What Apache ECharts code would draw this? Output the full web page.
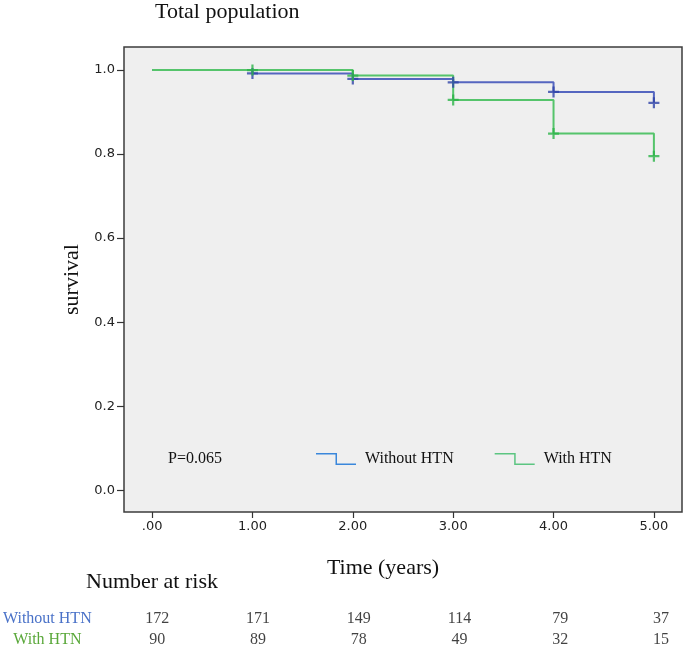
<!DOCTYPE html>
<html>
<head>
<meta charset="utf-8">
<script src="https://cdn.jsdelivr.net/npm/echarts@6/dist/echarts.min.js"></script>
<style>
html,body{margin:0;padding:0;background:#fff;}
#chart{width:685px;height:651px;}
</style>
</head>
<body>
<div id="chart"></div>
<script>
// ---- data ----
const timePoints = [0, 1, 2, 3, 4, 5];
const xTickLabels = ['.00', '1.00', '2.00', '3.00', '4.00', '5.00'];
const yTicks = [0, 0.2, 0.4, 0.6, 0.8, 1.0];
const yTickLabels = ['0.0', '0.2', '0.4', '0.6', '0.8', '1.0'];
const groups = ['Without HTN', 'With HTN'];
const survWithout = [1.0, 0.992, 0.979, 0.971, 0.948, 0.922];
const survWith = [1.0, 1.0, 0.987, 0.929, 0.849, 0.795];
const riskWithout = [172, 171, 149, 114, 79, 37];
const riskWith = [90, 89, 78, 49, 32, 15];
const pValueText = 'P=0.065';

// ---- styling ----
const SERIF = '"Liberation Serif", "Times New Roman", serif';
const SANS = '"DejaVu Sans", Arial, sans-serif';
const blueLine = '#5566c0', blueMark = '#3044a8', blueLegend = '#3a87db', blueText = '#4a72c8';
const greenLine = '#55c46b', greenMark = '#2cb449', greenLegend = '#5cc581', greenText = '#5aa83a';
const plusPath = 'path://M4,0H6V4H10V6H6V10H4V6H0V4H4Z';
const stepIcon = 'path://M0,0H21V10.5H40V12H19.5V1.5H0Z';

const kmData = (s) => timePoints.map((t, i) => [t, s[i]]);
const censorData = (s) => timePoints.slice(1).map((t, i) => [t, s[i + 1]]);
const riskData = (r, row) => timePoints.map((t, i) => [t, row, r[i]]);

const chart = echarts.init(document.getElementById('chart'), null, {renderer: 'canvas'});
chart.setOption({
  animation: false,
  backgroundColor: '#ffffff',
  title: [
    {text: 'Total population', left: 155, top: 1, padding: 0,
     textStyle: {fontFamily: SERIF, fontSize: 22, fontWeight: 'normal', color: '#111'}},
    {text: 'Number at risk', left: 86, top: 571, padding: 0,
     textStyle: {fontFamily: SERIF, fontSize: 22, fontWeight: 'normal', color: '#111'}},
    {text: pValueText, left: 168, top: 451, padding: 0,
     textStyle: {fontFamily: SERIF, fontSize: 16, fontWeight: 'normal', color: '#111'}}
  ],
  legend: {
    left: 316, top: 451, padding: 0,
    itemWidth: 40, itemHeight: 12, itemGap: 41,
    selectedMode: false,
    textStyle: {fontFamily: SERIF, fontSize: 16, color: '#111', padding: [0, 0, 0, 4]},
    data: [
      {name: groups[0], icon: stepIcon, itemStyle: {color: blueLegend}},
      {name: groups[1], icon: stepIcon, itemStyle: {color: greenLegend}}
    ]
  },
  grid: [
    {left: 124, top: 47, width: 558, height: 465, show: true,
     backgroundColor: '#efefef', borderColor: '#3c3c3c', borderWidth: 1.5, containLabel: false},
    {left: 157, right: 24, top: 608, height: 48, containLabel: false}
  ],
  xAxis: [
    {type: 'value', gridIndex: 0, min: -0.28, max: 5.28,
     axisLine: {show: false, onZero: false}, splitLine: {show: false},
     axisTick: {show: true, inside: false, length: 6, customValues: timePoints, lineStyle: {color: '#333', width: 1.2}},
     axisLabel: {customValues: timePoints, margin: 8, fontFamily: SANS, fontSize: 13, color: '#222',
       formatter: (v) => xTickLabels[timePoints.indexOf(Math.round(v))]},
     name: 'Time (years)', nameLocation: 'middle', nameGap: 45,
     nameTextStyle: {fontFamily: SERIF, fontSize: 22, color: '#111', padding: [0, 40, 0, 0]}},
    {type: 'value', gridIndex: 1, min: 0, max: 5, show: false}
  ],
  yAxis: [
    {type: 'value', gridIndex: 0, min: -0.052, max: 1.055,
     axisLine: {show: false, onZero: false}, splitLine: {show: false},
     axisTick: {show: true, inside: false, length: 7, customValues: yTicks, lineStyle: {color: '#333', width: 1.2}},
     axisLabel: {customValues: yTicks, margin: 9, fontFamily: SANS, fontSize: 13, color: '#222',
       formatter: (v) => yTickLabels[yTicks.findIndex(t => Math.abs(t - v) < 1e-6)]},
     name: 'survival', nameLocation: 'middle', nameGap: 40, nameRotate: 90,
     nameTextStyle: {fontFamily: SERIF, fontSize: 22, color: '#111'}},
    {type: 'category', gridIndex: 1, data: groups, inverse: true,
     axisLine: {show: false}, axisTick: {show: false}, splitLine: {show: false},
     axisLabel: {show: true, align: 'center', margin: 110, fontFamily: SERIF, fontSize: 16,
       color: (v, i) => (i === 0 ? blueText : greenText)}}
  ],
  series: [
    {name: groups[0], type: 'line', xAxisIndex: 0, yAxisIndex: 0, step: 'end',
     data: kmData(survWithout), showSymbol: false, symbol: 'none',
     itemStyle: {color: blueLine}, lineStyle: {color: blueLine, width: 2}, z: 2},
    {name: groups[1], type: 'line', xAxisIndex: 0, yAxisIndex: 0, step: 'end',
     data: kmData(survWith), showSymbol: false, symbol: 'none',
     itemStyle: {color: greenLine}, lineStyle: {color: greenLine, width: 2}, z: 3},
    {name: groups[0] + ' censored', type: 'scatter', xAxisIndex: 0, yAxisIndex: 0,
     data: censorData(survWithout), symbol: plusPath, symbolSize: 11,
     itemStyle: {color: blueMark}, z: 4},
    {name: groups[1] + ' censored', type: 'scatter', xAxisIndex: 0, yAxisIndex: 0,
     data: censorData(survWith), symbol: plusPath, symbolSize: 11,
     itemStyle: {color: greenMark}, z: 5},
    {name: 'risk ' + groups[0], type: 'scatter', xAxisIndex: 1, yAxisIndex: 1,
     data: riskData(riskWithout, 0), symbolSize: 0,
     label: {show: true, position: 'inside', formatter: (p) => p.value[2],
       fontFamily: SERIF, fontSize: 16, color: '#111'}},
    {name: 'risk ' + groups[1], type: 'scatter', xAxisIndex: 1, yAxisIndex: 1,
     data: riskData(riskWith, 1), symbolSize: 0,
     label: {show: true, position: 'inside', formatter: (p) => p.value[2],
       fontFamily: SERIF, fontSize: 16, color: '#111'}}
  ]
});
</script>
</body>
</html>
